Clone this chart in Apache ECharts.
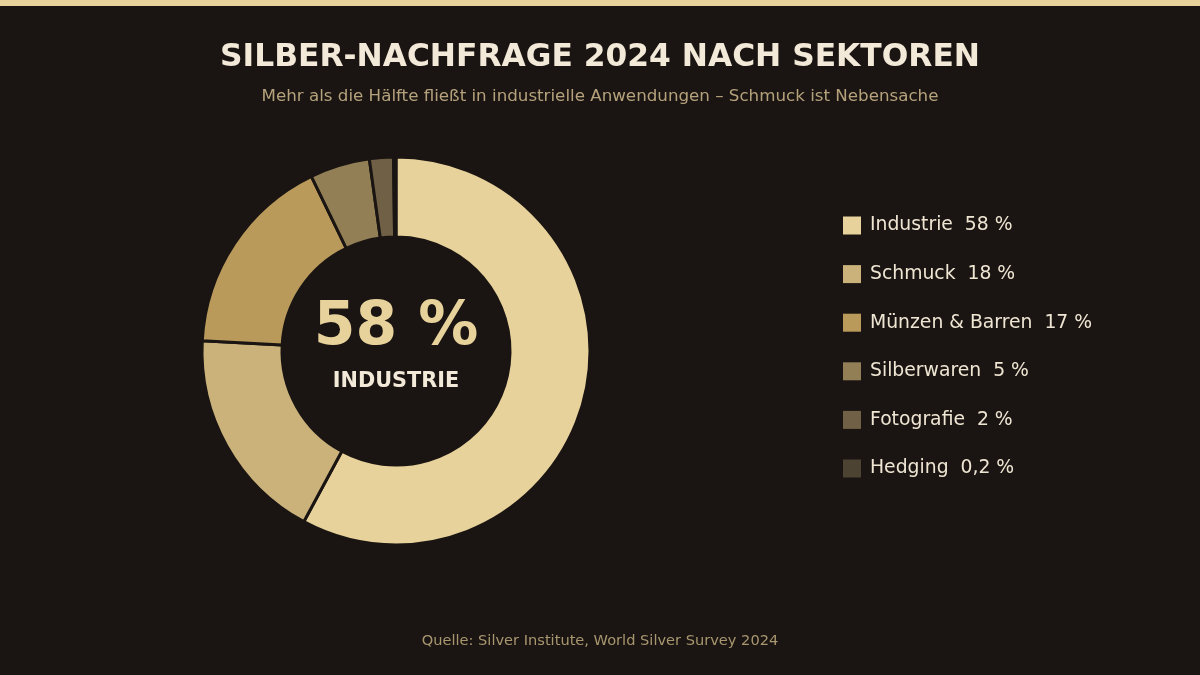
<!DOCTYPE html>
<html>
<head>
<meta charset="utf-8">
<script src="https://cdn.jsdelivr.net/npm/echarts@6/dist/echarts.min.js"></script>
<style>
  html, body { margin: 0; padding: 0; background: #1a1512; }
  #chart { width: 1200px; height: 675px; }
</style>
</head>
<body>
<div id="chart"></div>
<script>
  // Anteile der Silbernachfrage 2024 (in %)
  var sectors = ['Industrie', 'Schmuck', 'Münzen & Barren', 'Silberwaren', 'Fotografie', 'Hedging'];
  var shares = [58, 18, 17, 5, 2, 0.2];
  var sliceColors = ['#e8d29b', '#cab27a', '#b99a5b', '#927f56', '#6f6046', '#4d4333'];

  var fmtPct = function (v) {
    return String(v).replace('.', ',') + ' %';
  };

  var pieData = sectors.map(function (name, i) {
    return { name: name, value: shares[i], itemStyle: { color: sliceColors[i] } };
  });

  var chart = echarts.init(document.getElementById('chart'));
  chart.setOption({
    backgroundColor: '#1a1512',
    textStyle: { fontFamily: 'DejaVu Sans' },
    title: [{
      text: 'SILBER-NACHFRAGE 2024 NACH SEKTOREN',
      left: 'center',
      top: 37,
      textStyle: { color: '#f3e9d8', fontSize: 31.3, fontWeight: 'bold', fontFamily: 'DejaVu Sans' }
    }, {
      text: 'Mehr als die Hälfte fließt in industrielle Anwendungen – Schmuck ist Nebensache',
      left: 'center',
      top: 83,
      textStyle: { color: '#b5a27c', fontSize: 16.7, fontWeight: 'normal', fontFamily: 'DejaVu Sans' }
    }, {
      text: 'Quelle: Silver Institute, World Silver Survey 2024',
      left: 'center',
      top: 629,
      textStyle: { color: '#a8966f', fontSize: 14.6, fontWeight: 'normal', fontFamily: 'DejaVu Sans' }
    }, {
      text: fmtPct(shares[0]),
      left: 391,
      top: 293,
      textAlign: 'center',
      textStyle: { color: '#e8d29b', fontSize: 60, fontWeight: 'bold', fontFamily: 'DejaVu Sans' }
    }, {
      text: sectors[0].toUpperCase(),
      left: 391,
      top: 366,
      textAlign: 'center',
      textStyle: { color: '#f3e9d8', fontSize: 20.8, fontWeight: 'bold', fontFamily: 'DejaVu Sans' }
    }],
    graphic: [{
      type: 'rect',
      shape: { x: 0, y: 0, width: 1200, height: 6 },
      style: { fill: '#e8d29b' },
      silent: true
    }],
    legend: {
      orient: 'vertical',
      left: 838,
      top: 211,
      itemWidth: 18,
      itemHeight: 18,
      itemGap: 29.6,
      itemStyle: { borderWidth: 0 },
      icon: 'rect',
      data: sectors,
      formatter: function (name) {
        var i = sectors.indexOf(name);
        return name + '  ' + fmtPct(shares[i]);
      },
      textStyle: { color: '#efe5d3', fontSize: 18.8, fontFamily: 'DejaVu Sans', padding: [0, 0, 0, 4] }
    },
    series: [{
      type: 'pie',
      center: [396, 351],
      radius: [114, 194],
      startAngle: 90,
      clockwise: true,
      avoidLabelOverlap: false,
      label: { show: false },
      labelLine: { show: false },
      emphasis: { disabled: true },
      itemStyle: { borderColor: '#1a1512', borderWidth: 3 },
      data: pieData
    }]
  });
</script>
</body>
</html>
